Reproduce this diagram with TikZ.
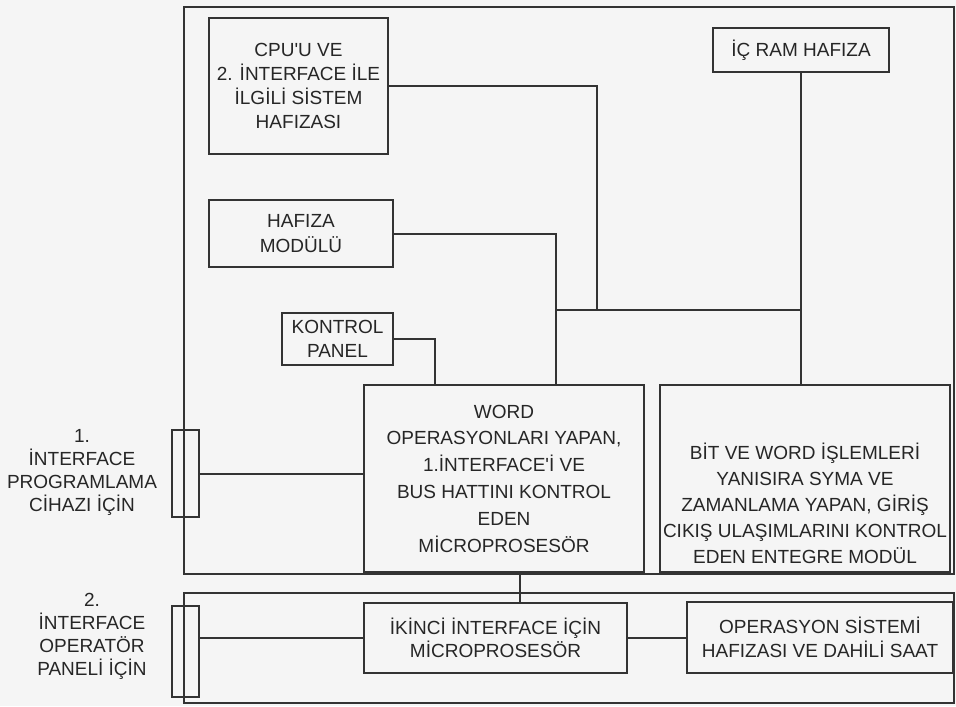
\documentclass[tikz,border=0pt]{standalone}
\usepackage{fontspec}
\setmainfont{Liberation Sans}

\begin{document}
\begin{tikzpicture}[x=0.5pt,y=-0.5pt,
  line/.style={draw=black!80,line width=1pt},
  box/.style={line,rectangle,inner sep=0pt,align=center,text=black!85,font=\fontsize{9.5}{12}\selectfont},
  lbl/.style={align=center,text=black!85,font=\fontsize{9.5}{11.5}\selectfont}]
  \fill[black!4] (0,0) rectangle (956,706);
  \draw[line] (184,7) rectangle (954,574);
  \draw[line] (184,593) rectangle (954,703);

  % upper board
  \node[box,minimum width=89.5pt,minimum height=68pt] (cpu) at (298.5,86) {CPU\textquotesingle U VE\\2. İNTERFACE İLE\\İLGİLİ SİSTEM\\HAFIZASI};
  \node[box,minimum width=88pt,minimum height=22pt] (ram) at (801,50) {İÇ RAM HAFIZA};
  \node[box,minimum width=92pt,minimum height=33.5pt,font=\fontsize{9.5}{12.5}\selectfont] (haf) at (301,233.5) {HAFIZA\\MODÜLÜ};
  \node[box,minimum width=55.5pt,minimum height=26pt] (kon) at (337.5,339) {KONTROL\\PANEL};
  \node[box,minimum width=140pt,minimum height=93.5pt,font=\fontsize{9.5}{13.4}\selectfont] (word) at (504,478.5) {WORD\\OPERASYONLARI YAPAN,\\1.İNTERFACE\textquotesingle İ VE\\BUS HATTINI KONTROL\\EDEN\\MİCROPROSESÖR};
  \node[box,minimum width=145pt,minimum height=93.5pt] (bit) at (805,478.5) {};
  \node[lbl,font=\fontsize{9.5}{13}\selectfont] (bittxt) at (805,503) {BİT VE WORD İŞLEMLERİ\\YANISIRA SYMA VE\\ZAMANLAMA YAPAN, GİRİŞ\\CIKIŞ ULAŞIMLARINI KONTROL\\EDEN ENTEGRE MODÜL};
  \node[box,minimum width=13.5pt,minimum height=43.5pt] (if1) at (185.5,473.5) {};

  % lower board
  \node[box,minimum width=131.5pt,minimum height=35pt,font=\fontsize{9.5}{11.5}\selectfont] (ik) at (495.5,638) {İKİNCİ İNTERFACE İÇİN\\MİCROPROSESÖR};
  \node[box,minimum width=133pt,minimum height=35.5pt] (op) at (820,637.5) {OPERASYON SİSTEMİ\\HAFIZASI VE DAHİLİ SAAT};
  \node[box,minimum width=13.5pt,minimum height=45.5pt] (if2) at (185.5,651.5) {};

  \node[lbl] (l1) at (82,472) {1.\\İNTERFACE\\PROGRAMLAMA\\CİHAZI İÇİN};
  \node[lbl] (l2) at (92,636) {2.\\İNTERFACE\\OPERATÖR\\PANELİ İÇİN};

  % bus
  \coordinate (busw) at (556,310);
  \coordinate (busc) at (597,310);
  \coordinate (buse) at (801,310);
  \draw[line] (busw) -- (buse);
  \draw[line] (cpu.east) -| (busc);
  \draw[line] (ram.south) -- (ram.south |- bit.north);
  \draw[line] (haf.east) -| (busw) -- (busw |- word.north);
  \draw[line] (kon.east) -| ([xshift=-34.5pt]word.north);
  \draw[line] (if1.east) -- (if1.east -| word.west);
  \draw[line] ([xshift=8pt]word.south) -- ([xshift=8pt]word.south |- ik.north);
  \draw[line] (ik.west -| if2.east) -- (ik.west);
  \draw[line] (ik.east) -- (ik.east -| op.west);
\end{tikzpicture}
\end{document}
